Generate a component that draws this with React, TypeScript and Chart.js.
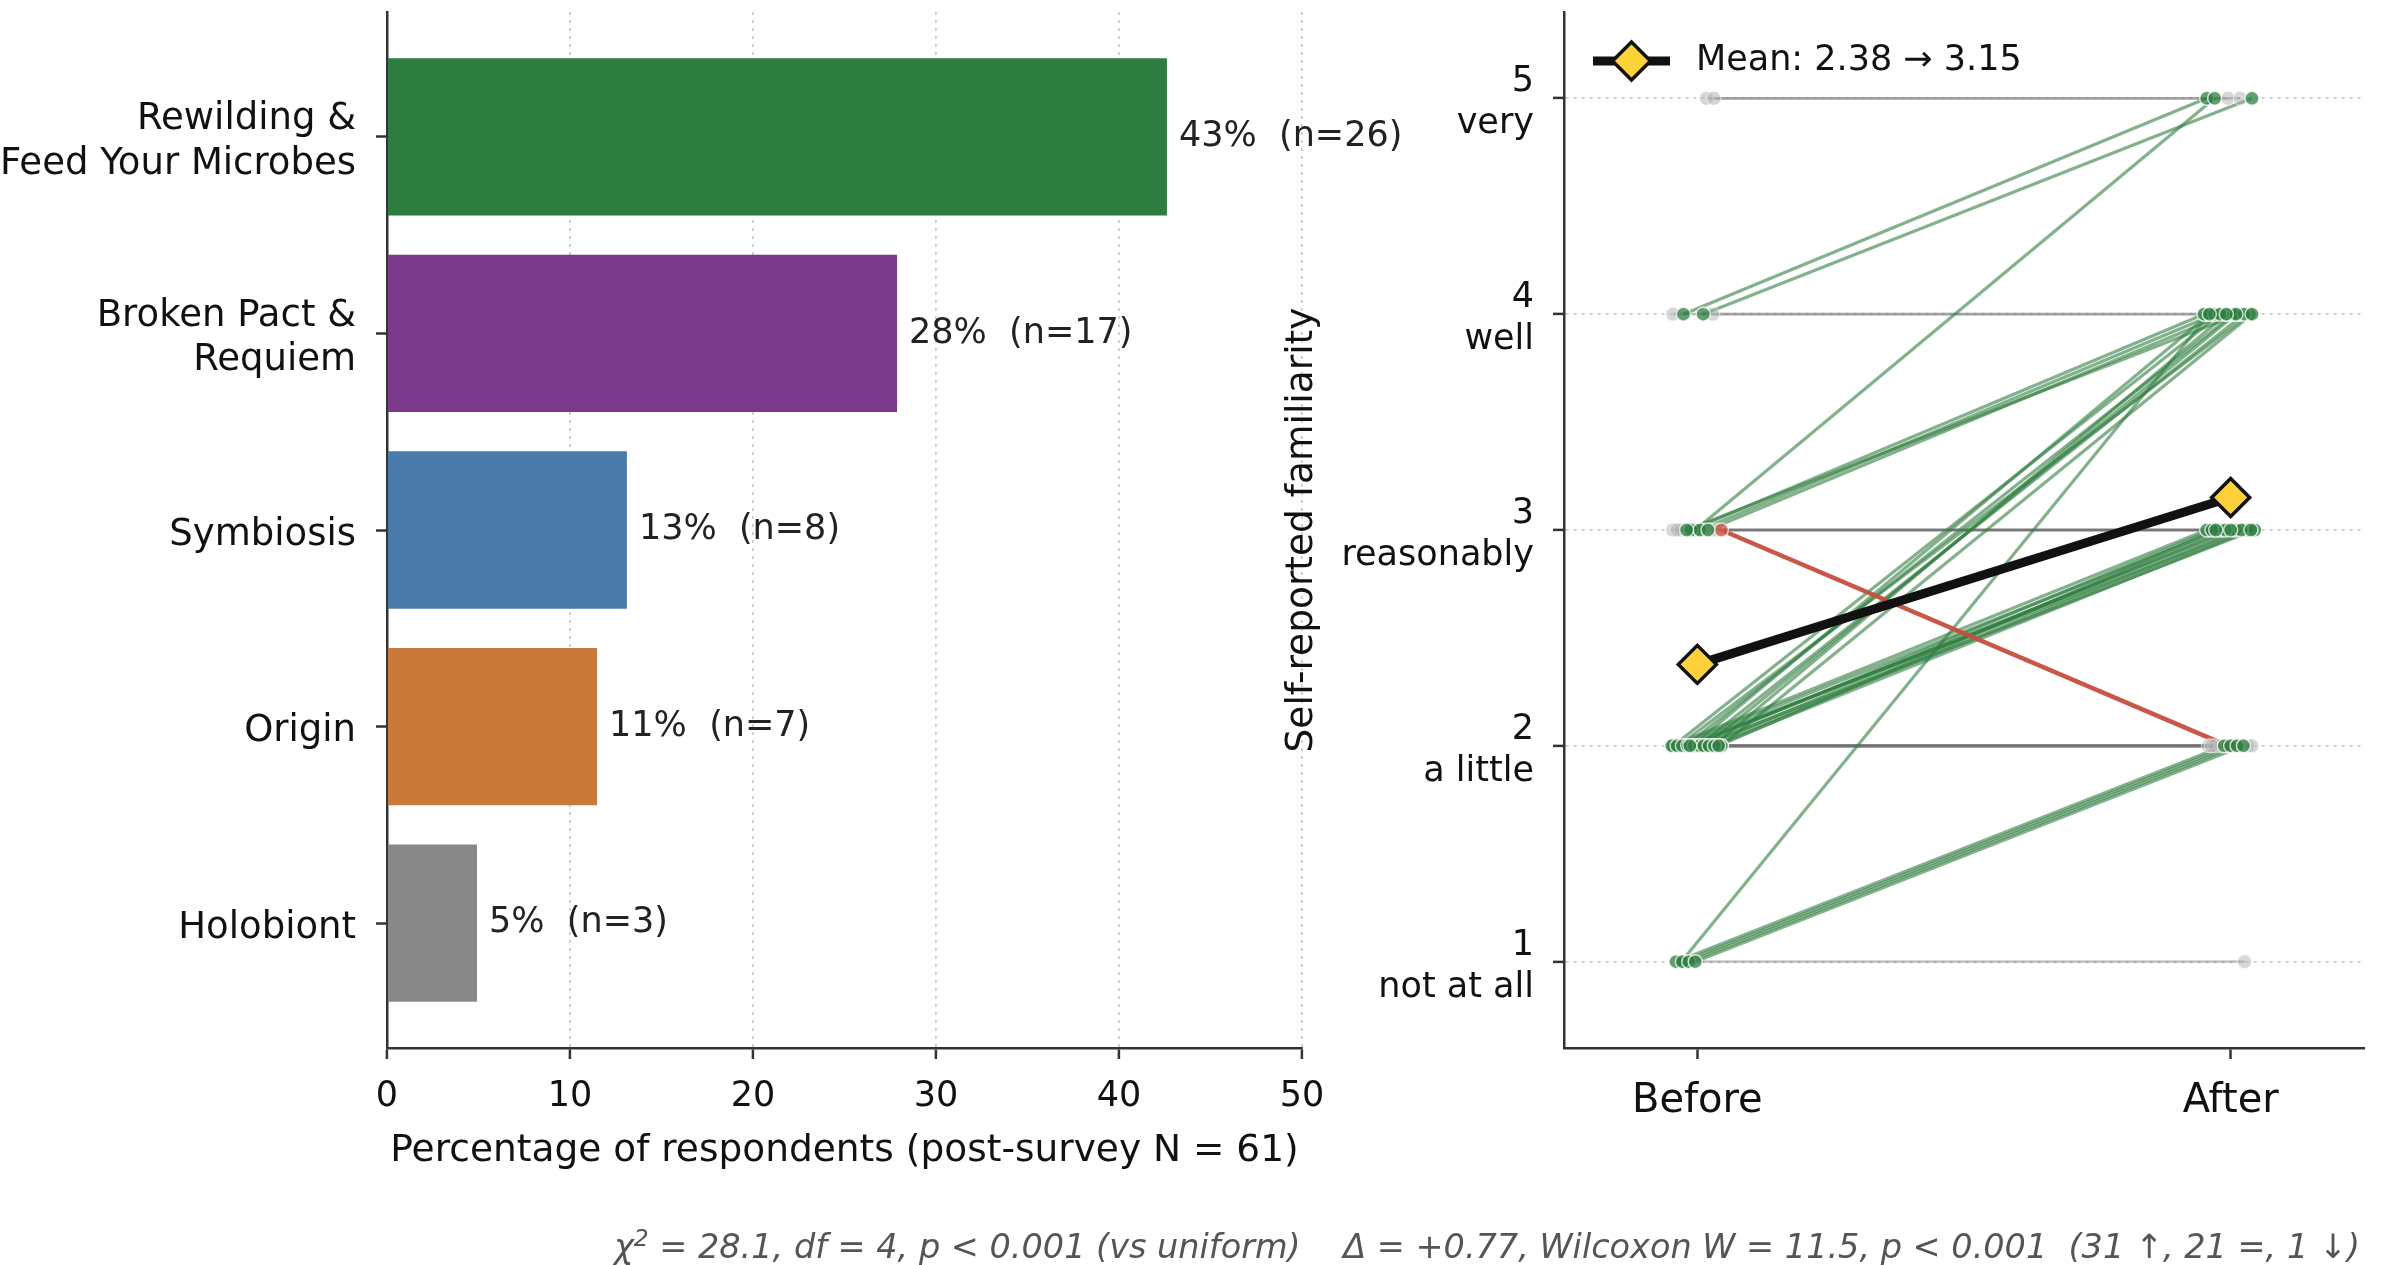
import React, { useEffect, useRef } from 'react';
import { Chart, registerables } from 'chart.js';

Chart.register(...registerables);

// ---------- Left panel data ----------
const categories: string[][] = [
  ['Rewilding &', 'Feed Your Microbes'],
  ['Broken Pact &', 'Requiem'],
  ['Symbiosis'],
  ['Origin'],
  ['Holobiont'],
];
const percentages = [42.62, 27.87, 13.11, 11.48, 4.92];
const percentLabels = ['43%', '28%', '13%', '11%', '5%'];
const counts = [26, 17, 8, 7, 3];
const barColors = ['#2e7d40', '#7b398c', '#4a7aa8', '#c97a3b', '#888888'];
const xTicks = [0, 10, 20, 30, 40, 50];
const xTitle = 'Percentage of respondents (post-survey N = 61)';

// ---------- Right panel data (paired responses) ----------
const beforeScores = [
  4, 4, 3, 1,
  3, 3, 3, 3,
  2, 2, 2, 2, 2, 2, 2, 2,
  2, 2, 2, 2, 2, 2, 2, 2, 2, 2, 2,
  1, 1, 1, 1,
  3,
  5, 5, 4, 4,
  3, 3, 3, 3, 3, 3,
  2, 2, 2, 2, 2, 2, 2, 2, 2, 2,
  1,
];
const afterScores = [
  5, 5, 5, 4,
  4, 4, 4, 4,
  4, 4, 4, 4, 4, 4, 4, 4,
  3, 3, 3, 3, 3, 3, 3, 3, 3, 3, 3,
  2, 2, 2, 2,
  2,
  5, 5, 4, 4,
  3, 3, 3, 3, 3, 3,
  2, 2, 2, 2, 2, 2, 2, 2, 2, 2,
  1,
];
const beforeJitter = [
  -0.026, 0.011, -0.004, -0.03,
  -0.012, 0.005, 0.02, -0.02,
  -0.045, -0.035, -0.022, -0.01, 0.002, 0.015, 0.03, 0.045,
  -0.048, -0.038, -0.028, -0.018, -0.006, 0.004, 0.012, 0.022, 0.032, 0.04, -0.014,
  -0.04, -0.028, -0.016, -0.004,
  0.045,
  0.017, 0.031, -0.046, 0.029,
  -0.046, -0.03, 0.025, 0.035, 0.012, -0.038,
  -0.044, -0.03, -0.016, -0.004, 0.008, 0.018, 0.028, 0.038, -0.024, 0.046,
  -0.025,
];
const afterJitter = [
  -0.045, 0.04, -0.03, -0.04,
  -0.05, -0.03, -0.01, 0.015,
  -0.02, 0.035, 0.005, -0.04, 0.025, 0.01, -0.008, 0.04,
  -0.045, -0.02, 0.03, 0.01, -0.035, 0.045, -0.01, 0.02, 0.038, -0.028, 0.0,
  -0.012, 0.0, 0.012, 0.024,
  -0.005,
  -0.005, 0.018, -0.048, 0.02,
  -0.04, 0.005, 0.03, 0.045, -0.015, 0.022,
  -0.042, -0.03, -0.018, -0.004, 0.008, 0.016, 0.032, 0.04, -0.036, 0.012,
  0.026,
];
const levelValues = [1, 2, 3, 4, 5];
const levelLabels: string[][] = [
  ['1', 'not at all'],
  ['2', 'a little'],
  ['3', 'reasonably'],
  ['4', 'well'],
  ['5', 'very'],
];
const timeLabels = ['Before', 'After'];
const yTitle = 'Self-reported familiarity';
const footerLeft = ' = 28.1, df = 4, p < 0.001 (vs uniform)    Δ = +0.77, Wilcoxon W = 11.5, p < 0.001  (31 ↑, 21 =, 1 ↓)';

const FONT = '"DejaVu Sans", "Liberation Sans", sans-serif';
const SPINE = '#333333';
const GRID = '#cccccc';
const YELLOW = '#fdd13a';

const meanOf = (a: number[]) => a.reduce((s, v) => s + v, 0) / a.length;

const valueLabelPlugin = {
  id: 'valueLabels',
  afterDatasetsDraw(chart: any) {
    const ctx = chart.ctx;
    const meta = chart.getDatasetMeta(0);
    ctx.save();
    ctx.font = `35px ${FONT}`;
    ctx.fillStyle = '#222';
    ctx.textAlign = 'left';
    ctx.textBaseline = 'middle';
    meta.data.forEach((el: any, i: number) => {
      ctx.fillText(`${percentLabels[i]}  (n=${counts[i]})`, el.x + 12, el.y);
    });
    ctx.restore();
  },
};

function makeLegendPlugin(text: string) {
  return {
    id: 'meanLegend',
    afterDatasetsDraw(chart: any) {
      const ctx = chart.ctx;
      const area = chart.chartArea;
      const y = area.top + 49;
      const x0 = area.left + 29;
      const x1 = x0 + 77;
      const cx = (x0 + x1) / 2;
      ctx.save();
      ctx.strokeStyle = '#111';
      ctx.lineWidth = 9;
      ctx.beginPath();
      ctx.moveTo(x0, y);
      ctx.lineTo(x1, y);
      ctx.stroke();
      const r = 19;
      ctx.beginPath();
      ctx.moveTo(cx - r, y);
      ctx.lineTo(cx, y - r);
      ctx.lineTo(cx + r, y);
      ctx.lineTo(cx, y + r);
      ctx.closePath();
      ctx.fillStyle = YELLOW;
      ctx.fill();
      ctx.lineWidth = 3.5;
      ctx.strokeStyle = '#111';
      ctx.stroke();
      ctx.font = `35px ${FONT}`;
      ctx.fillStyle = '#111';
      ctx.textAlign = 'left';
      ctx.textBaseline = 'middle';
      ctx.fillText(text, x1 + 26, y);
      ctx.restore();
    },
  };
}

export default function App() {
  const leftRef = useRef<HTMLCanvasElement>(null);
  const rightRef = useRef<HTMLCanvasElement>(null);

  useEffect(() => {
    Chart.defaults.font.family = FONT;
    Chart.defaults.color = '#111';

    const left = new Chart(leftRef.current as HTMLCanvasElement, {
      type: 'bar',
      data: {
        datasets: [
          {
            data: percentages.map((v, i) => ({ x: v, y: i })),
            backgroundColor: barColors,
            borderWidth: 0,
            barPercentage: 1,
            categoryPercentage: 0.8,
          },
        ],
      },
      options: {
        indexAxis: 'y',
        animation: false,
        responsive: false,
        devicePixelRatio: 1,
        layout: { autoPadding: false, padding: { left: 0, top: 12, right: 1086, bottom: 0 } },
        plugins: { legend: { display: false }, tooltip: { enabled: false } },
        scales: {
          x: {
            type: 'linear',
            position: 'bottom',
            min: 0,
            max: 50,
            offset: false,
            afterBuildTicks: (s: any) => {
              s.ticks = xTicks.map((v) => ({ value: v }));
            },
            afterFit: (s: any) => {
              s.height = 217;
              s.paddingLeft = 0;
              s.paddingRight = 0;
            },
            ticks: { font: { size: 35 }, color: '#111', padding: 17, maxRotation: 0, autoSkip: false },
            grid: { offset: false, color: GRID, lineWidth: 1.8, tickColor: SPINE, tickWidth: 2.5, tickLength: 11 },
            border: { color: SPINE, width: 2.5, dash: [3, 5] },
            title: {
              display: true,
              text: xTitle,
              font: { size: 37.5 },
              color: '#111',
              padding: { top: 0, bottom: 91.5 },
            },
          },
          y: {
            type: 'linear',
            position: 'left',
            min: -0.635,
            max: 4.635,
            reverse: true,
            offset: false,
            afterBuildTicks: (s: any) => {
              s.ticks = categories.map((_, i) => ({ value: i }));
            },
            afterFit: (s: any) => {
              s.width = 387;
              s.paddingTop = 0;
              s.paddingBottom = 0;
            },
            ticks: {
              callback: (v: any) => categories[v],
              font: { size: 37 },
              color: '#111',
              padding: 20,
              labelOffset: 5,
              autoSkip: false,
            },
            grid: { offset: false, drawOnChartArea: false, tickColor: SPINE, tickWidth: 2.5, tickLength: 11 },
            border: { color: SPINE, width: 2.5 },
          },
        },
      } as any,
      plugins: [valueLabelPlugin],
    });

    // right panel datasets
    const meanB = meanOf(beforeScores);
    const meanA = meanOf(afterScores);
    const datasets: any[] = [];
    const greenDots: any[] = [];
    const grayDots: any[] = [];
    const redDots: any[] = [];
    beforeScores.forEach((b, i) => {
      const a = afterScores[i];
      const p1 = { x: 0 + beforeJitter[i], y: b };
      const p2 = { x: 1 + afterJitter[i], y: a };
      let color = 'rgba(115,115,115,0.4)';
      let width = 2.6;
      let order = 5;
      if (a > b) {
        color = 'rgba(46,125,64,0.6)';
        width = 3.2;
        order = 4;
        greenDots.push(p1, p2);
      } else if (a < b) {
        color = 'rgba(198,78,62,0.95)';
        width = 4.5;
        order = 3;
        redDots.push(p1, p2);
      } else {
        grayDots.push(p1, p2);
      }
      datasets.push({
        type: 'line',
        data: [p1, p2],
        borderColor: color,
        borderWidth: width,
        pointRadius: 0,
        fill: false,
        order,
      });
    });
    datasets.push({
      type: 'line',
      data: grayDots,
      showLine: false,
      pointRadius: 7,
      pointBackgroundColor: 'rgba(175,175,175,0.5)',
      pointBorderColor: 'rgba(255,255,255,0.6)',
      pointBorderWidth: 1,
      order: 2.5,
    });
    datasets.push({
      type: 'line',
      data: redDots,
      showLine: false,
      pointRadius: 7,
      pointBackgroundColor: 'rgba(200,80,64,0.75)',
      pointBorderColor: 'rgba(255,255,255,0.7)',
      pointBorderWidth: 1.5,
      order: 2,
    });
    datasets.push({
      type: 'line',
      data: greenDots,
      showLine: false,
      pointRadius: 7,
      pointBackgroundColor: 'rgba(46,125,64,0.75)',
      pointBorderColor: 'rgba(255,255,255,0.75)',
      pointBorderWidth: 1.5,
      order: 1,
    });
    datasets.push({
      type: 'line',
      data: [
        { x: 0, y: meanB },
        { x: 1, y: meanA },
      ],
      borderColor: '#111',
      borderWidth: 9,
      pointStyle: 'rectRot',
      pointRadius: 19,
      pointBackgroundColor: YELLOW,
      pointBorderColor: '#111',
      pointBorderWidth: 3.5,
      order: 0,
    });

    const legendText = `Mean: ${meanB.toFixed(2)} → ${meanA.toFixed(2)}`;

    const right = new Chart(rightRef.current as HTMLCanvasElement, {
      type: 'line',
      data: { datasets },
      options: {
        animation: false,
        responsive: false,
        devicePixelRatio: 1,
        layout: { autoPadding: false, padding: { left: 1250, top: 12, right: 24, bottom: 0 } },
        plugins: { legend: { display: false }, tooltip: { enabled: false } },
        scales: {
          x: {
            type: 'linear',
            position: 'bottom',
            min: -0.25,
            max: 1.25,
            afterBuildTicks: (s: any) => {
              s.ticks = timeLabels.map((_, i) => ({ value: i }));
            },
            afterFit: (s: any) => {
              s.height = 217;
              s.paddingLeft = 0;
              s.paddingRight = 0;
            },
            ticks: {
              callback: (v: any) => timeLabels[v],
              font: { size: 40 },
              color: '#111',
              padding: 19,
              maxRotation: 0,
              autoSkip: false,
            },
            grid: { drawOnChartArea: false, tickColor: SPINE, tickWidth: 2.5, tickLength: 11 },
            border: { color: SPINE, width: 2.5 },
          },
          y: {
            type: 'linear',
            position: 'left',
            min: 0.6,
            max: 5.4,
            afterBuildTicks: (s: any) => {
              s.ticks = levelValues.map((v) => ({ value: v }));
            },
            afterFit: (s: any) => {
              s.width = 314;
              s.paddingTop = 0;
              s.paddingBottom = 0;
            },
            ticks: {
              callback: (v: any) => levelLabels[levelValues.indexOf(v)],
              font: { size: 35 },
              color: '#111',
              padding: 19,
              labelOffset: 5,
              autoSkip: false,
            },
            grid: { color: GRID, lineWidth: 1.8, tickColor: SPINE, tickWidth: 2.5, tickLength: 11 },
            border: { color: SPINE, width: 2.5, dash: [3, 5] },
            title: {
              display: true,
              text: yTitle,
              font: { size: 37.5 },
              color: '#111',
              padding: { top: 29.5, bottom: 0 },
            },
          },
        },
      } as any,
      plugins: [makeLegendPlugin(legendText)],
    });

    return () => {
      left.destroy();
      right.destroy();
    };
  }, []);

  const canvasStyle: React.CSSProperties = {
    position: 'absolute',
    left: 0,
    top: 0,
    width: 2388,
    height: 1265,
  };

  return (
    <div
      style={{
        position: 'absolute',
        left: 0,
        top: 0,
        width: 2388,
        height: 1265,
        background: '#ffffff',
        overflow: 'hidden',
      }}
    >
      <canvas ref={leftRef} width={2388} height={1265} style={canvasStyle} />
      <canvas ref={rightRef} width={2388} height={1265} style={canvasStyle} />
      <div
        style={{
          position: 'absolute',
          right: 28,
          top: 1227,
          fontFamily: FONT,
          fontStyle: 'italic',
          fontSize: 33.5,
          lineHeight: '40px',
          color: '#555555',
          whiteSpace: 'pre',
        }}
      >
        χ<sup style={{ fontSize: '0.7em', lineHeight: 0, verticalAlign: '0.5em' }}>2</sup>
        {footerLeft}
      </div>
    </div>
  );
}
